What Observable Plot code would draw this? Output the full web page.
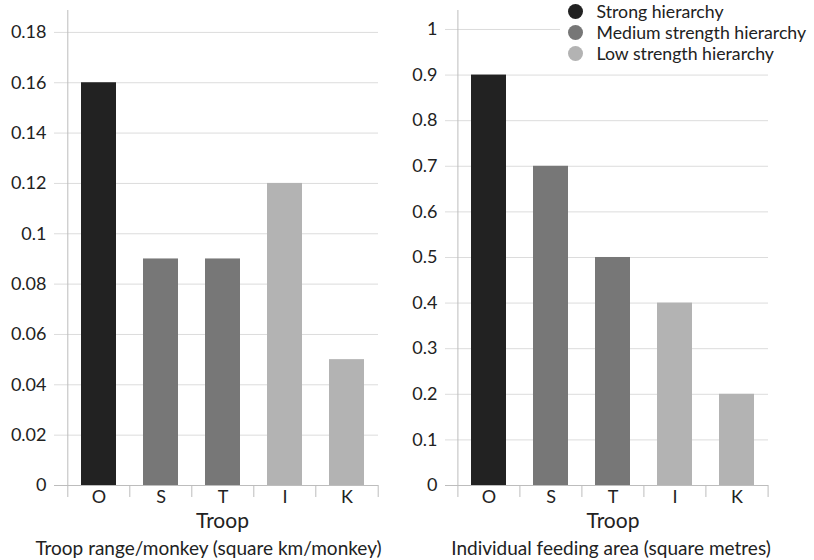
<!DOCTYPE html>
<html>
<head>
<meta charset="utf-8">
<script src="https://cdn.jsdelivr.net/npm/d3@7"></script>
<script src="https://cdn.jsdelivr.net/npm/@observablehq/plot@0.6"></script>
<style>
  html, body { margin: 0; padding: 0; background: #fff; }
  #chart { position: relative; width: 814px; height: 560px; font-family: Lato, sans-serif; color: #222; }
  #left, #right { position: absolute; top: 0; }
  #left { left: 0; }
  #right { left: 400px; }
  #legend { position: absolute; left: 560px; top: 1px; padding-left: 8px; padding-right: 4px; background: #fff; font-size: 17.7px; color: #222; }
  #legend div { display: flex; align-items: center; height: 21px; white-space: nowrap; }
  #legend span.sw { display: inline-block; width: 15px; height: 15px; border-radius: 50%; margin-right: 13.5px; flex: none; }
</style>
</head>
<body>
<div id="chart">
  <div id="left"></div>
  <div id="right"></div>
  <div id="legend"></div>
</div>
<script>
// ---- data ----
const troops = ["O", "S", "T", "I", "K"];
const hierarchy = ["Strong hierarchy", "Medium strength hierarchy", "Medium strength hierarchy", "Low strength hierarchy", "Low strength hierarchy"];
const rangePerMonkey = [0.16, 0.09, 0.09, 0.12, 0.05];
const feedingArea = [0.9, 0.7, 0.5, 0.4, 0.2];
const groups = ["Strong hierarchy", "Medium strength hierarchy", "Low strength hierarchy"];
const groupColors = ["#222222", "#777777", "#b3b3b3"];
const leftTicks = [0, 0.02, 0.04, 0.06, 0.08, 0.1, 0.12, 0.14, 0.16, 0.18];
const rightTicks = [0, 0.1, 0.2, 0.3, 0.4, 0.5, 0.6, 0.7, 0.8, 0.9, 1];
const xTitle = "Troop";
const leftSubtitle = "Troop range/monkey (square km/monkey)";
const rightSubtitle = "Individual feeding area (square metres)";

const gridColor = "#dcdcdc";
const axisColor = "#bdbdbd";

function panel({values, ticks, yMax, width, marginLeft, marginRight, subtitle, subDx}) {
  const data = troops.map((t, i) => ({troop: t, value: values[i], group: hierarchy[i]}));
  const height = 560, marginTop = 10, marginBottom = 75;
  const step = (width - marginLeft - marginRight) / troops.length;
  return Plot.plot({
    width, height, marginTop, marginBottom, marginLeft, marginRight,
    style: {fontFamily: "Lato, sans-serif", background: "white", overflow: "visible"},
    x: {domain: troops, paddingInner: 0.44, paddingOuter: 0.22, axis: null},
    y: {domain: [0, yMax], axis: null},
    color: {domain: groups, range: groupColors},
    marks: [
      Plot.gridY(ticks, {stroke: gridColor, strokeOpacity: 1}),
      Plot.axisY({ticks, tickSize: 12, tickPadding: 8, stroke: gridColor, strokeOpacity: 1,
        fontSize: 18, fill: "#222", tickFormat: d => String(+d.toFixed(2)), label: null}),
      Plot.barY(data, {x: "troop", y: "value", fill: "group"}),
      Plot.ruleY([0], {stroke: axisColor, insetLeft: -12}),
      Plot.ruleX([troops[0]], {dx: -step / 2, stroke: axisColor}),
      Plot.axisX({ticks: troops, tickSize: 12, tickFormat: () => "", dx: -step / 2, stroke: axisColor, strokeOpacity: 1, label: null}),
      Plot.axisX({ticks: [troops[troops.length - 1]], tickSize: 12, tickFormat: () => "", dx: step / 2, stroke: axisColor, strokeOpacity: 1, label: null}),
      Plot.axisX({ticks: troops, tickSize: 0, tickPadding: 5, fontSize: 18, fill: "#222", label: null}),
      Plot.text([xTitle], {frameAnchor: "bottom", dy: 42, fontSize: 21, fill: "#222"}),
      Plot.text([subtitle], {frameAnchor: "bottom", dy: 69, dx: subDx, fontSize: 19, fill: "#222"})
    ]
  });
}

document.getElementById("left").appendChild(panel({
  values: rangePerMonkey, ticks: leftTicks, yMax: 0.1887,
  width: 400, marginLeft: 66, marginRight: 22, subtitle: leftSubtitle, subDx: -14
}));
document.getElementById("right").appendChild(panel({
  values: feedingArea, ticks: rightTicks, yMax: 1.0416,
  width: 414, marginLeft: 57, marginRight: 46, subtitle: rightSubtitle, subDx: -2
}));

const legend = document.getElementById("legend");
groups.forEach((g, i) => {
  const row = document.createElement("div");
  const sw = document.createElement("span");
  sw.className = "sw";
  sw.style.background = groupColors[i];
  row.appendChild(sw);
  row.appendChild(document.createTextNode(g));
  legend.appendChild(row);
});
</script>
</body>
</html>
